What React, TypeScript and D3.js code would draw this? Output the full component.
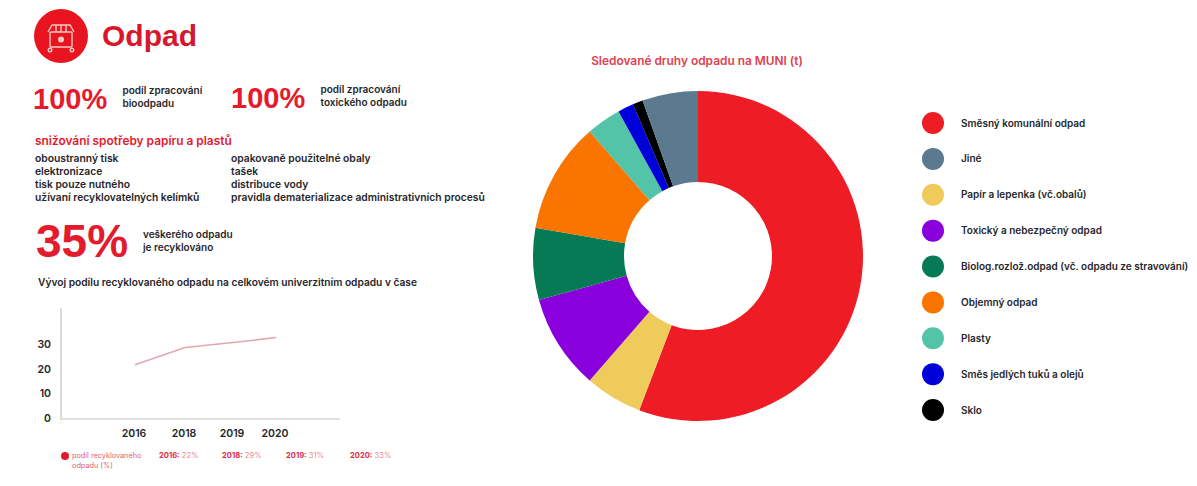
import React from "react";
import * as d3 from "d3";

// Waste types in the order the ring runs, clockwise from twelve o'clock (tonnes, share of total)
const sliceNames = [
  "Směsný komunální odpad",
  "Papír a lepenka (vč.obalů)",
  "Toxický a nebezpečný odpad",
  "Biolog.rozlož.odpad (vč. odpadu ze stravování)",
  "Objemný odpad",
  "Plasty",
  "Směs jedlých tuků a olejů",
  "Sklo",
  "Jiné",
];
const sliceValues = [55.8, 5.6, 9.3, 7.05, 10.85, 3.4, 1.55, 1.0, 5.45];
const sliceColors = ["#ee1c25", "#efcb5c", "#8a00dc", "#067a54", "#fa7400", "#54c4a8", "#0000d8", "#000000", "#5b7a90"];

// Legend order differs from the ring order
const legendNames = [
  "Směsný komunální odpad",
  "Jiné",
  "Papír a lepenka (vč.obalů)",
  "Toxický a nebezpečný odpad",
  "Biolog.rozlož.odpad (vč. odpadu ze stravování)",
  "Objemný odpad",
  "Plasty",
  "Směs jedlých tuků a olejů",
  "Sklo",
];

// Recycled share over time, in percent
const years = ["2016", "2018", "2019", "2020"];
const recycledShare = [22, 29, 31, 33];
const yTicks = [0, 10, 20, 30];

const leftColumn = ["oboustranný tisk", "elektronizace", "tisk pouze nutného", "užívaní recyklovatelných kelímků"];
const rightColumn = ["opakovaně použitelné obaly", "tašek", "distribuce vody", "pravidla dematerializace administrativních procesů"];

const RED = "#e31b2c";
const INK = "#26262a";
const HEAD = "'Liberation Sans', Arial, sans-serif";
const BODY = "Inter, 'Liberation Sans', sans-serif";

export default function App() {
  const color = d3.scaleOrdinal<string, string>().domain(sliceNames).range(sliceColors);
  const arcs = d3.pie<number>().sort(null)(sliceValues);
  const arc = d3.arc<d3.PieArcDatum<number>>().innerRadius(74).outerRadius(165);

  // The year axis is unevenly spaced, so each year keeps its own position
  const xPos = d3.scaleOrdinal<string, number>().domain(years).range([135, 185, 233, 276]);
  const y = d3.scaleLinear().domain([0, 30]).range([419, 345]);
  const line = d3
    .line<number>()
    .x((_, i) => xPos(years[i]))
    .y((d) => y(d));

  const legendY = d3.scalePoint<string>().domain(legendNames).range([123, 410]);
  const noteX = [159, 222, 286, 350];

  return (
    <svg
      width={1197}
      height={486}
      viewBox="0 0 1197 486"
      style={{ position: "absolute", left: 0, top: 0, display: "block", background: "#fff" }}
      fontFamily={BODY}
    >
      {/* Heading badge with a wheeled bin */}
      <circle cx={61} cy={36} r={27} fill="#e8141f" />
      <g fill="none" stroke="#f7c9c4" strokeWidth={1.4}>
        <rect x={50} y={32} width={22} height={15} rx={1} />
        <path d="M48 32 L52 25 H70 L74 32 M56 25 V32 M61 25 V32 M66 25 V32" />
        <circle cx={50} cy={50} r={1.8} />
        <circle cx={72} cy={50} r={1.8} />
      </g>
      <circle cx={61} cy={39.5} r={3} fill="#f7c9c4" />
      <text x={102} y={46} fontFamily={HEAD} fontSize={30} fontWeight={700} fill="#d8172f">Odpad</text>

      {/* Headline figures */}
      <text x={33} y={109} fontFamily={HEAD} fontSize={29} fontWeight={700} fill={RED}>100%</text>
      <text x={122.5} y={94} fontSize={10} fontWeight={600} fill={INK}>podíl zpracování</text>
      <text x={122.5} y={107} fontSize={10} fontWeight={600} fill={INK}>bioodpadu</text>
      <text x={231} y={108} fontFamily={HEAD} fontSize={29} fontWeight={700} fill={RED}>100%</text>
      <text x={320.5} y={93} fontSize={10} fontWeight={600} fill={INK}>podíl zpracování</text>
      <text x={320.5} y={106} fontSize={10} fontWeight={600} fill={INK}>toxického odpadu</text>

      <text x={35} y={145} fontSize={11.9} fontWeight={600} fill={RED}>snižování spotřeby papíru a plastů</text>
      {leftColumn.map((t, i) => (
        <text key={t} x={35} y={162 + i * 13} fontSize={10.3} fontWeight={600} fill={INK}>{t}</text>
      ))}
      {rightColumn.map((t, i) => (
        <text key={t} x={231} y={162 + i * 13} fontSize={10.3} fontWeight={600} fill={INK}>{t}</text>
      ))}

      <text x={36} y={257} fontFamily={HEAD} fontSize={46} fontWeight={700} fill={RED}>35%</text>
      <text x={143} y={238} fontSize={10} fontWeight={600} fill={INK}>veškerého odpadu</text>
      <text x={143} y={251} fontSize={10} fontWeight={600} fill={INK}>je recyklováno</text>

      <text x={38} y={286} fontSize={10.2} fontWeight={600} fill={INK}>
        Vývoj podílu recyklovaného odpadu na celkovém univerzitním odpadu v čase
      </text>

      {/* Recycled share line chart */}
      <path d="M61 308 V419 H340" fill="none" stroke="#c4c4c8" strokeWidth={1.2} />
      {yTicks.map((t) => (
        <text key={t} x={51} y={y(t) + 3} textAnchor="end" fontSize={10.5} fontWeight={600} fill={INK}>{t}</text>
      ))}
      {years.map((yr) => (
        <text key={yr} x={xPos(yr) - 1} y={437} textAnchor="middle" fontSize={10.5} fontWeight={600} fill={INK}>{yr}</text>
      ))}
      <path d={line(recycledShare) ?? ""} fill="none" stroke="#e3a6b2" strokeWidth={1.5} />

      <circle cx={65} cy={456} r={4} fill={RED} />
      <text x={72} y={458} fontSize={7.3} fill="#e2606f">podíl recyklovaného</text>
      <text x={72} y={468} fontSize={7.3} fill="#e2606f">odpadu (%)</text>
      {years.map((yr, i) => (
        <text key={yr} x={noteX[i]} y={458} fontSize={7.6} fill="#ea8a96">
          <tspan fontWeight={700} fill="#dc2f48">{yr}:</tspan> {recycledShare[i]}%
        </text>
      ))}

      {/* Ring of monitored waste types */}
      <text x={697} y={65} textAnchor="middle" fontSize={11.9} fontWeight={600} fill="#e0404f">
        Sledované druhy odpadu na MUNI (t)
      </text>
      <g transform="translate(698,256)">
        {arcs.map((a, i) => (
          <path key={sliceNames[i]} d={arc(a) ?? ""} fill={color(sliceNames[i])} />
        ))}
      </g>

      {/* Legend */}
      {legendNames.map((n) => (
        <g key={n} transform={`translate(933,${legendY(n)})`}>
          <circle r={11} fill={color(n)} />
          <text x={28} y={3.5} fontSize={10} fontWeight={600} fill={INK}>{n}</text>
        </g>
      ))}
    </svg>
  );
}
